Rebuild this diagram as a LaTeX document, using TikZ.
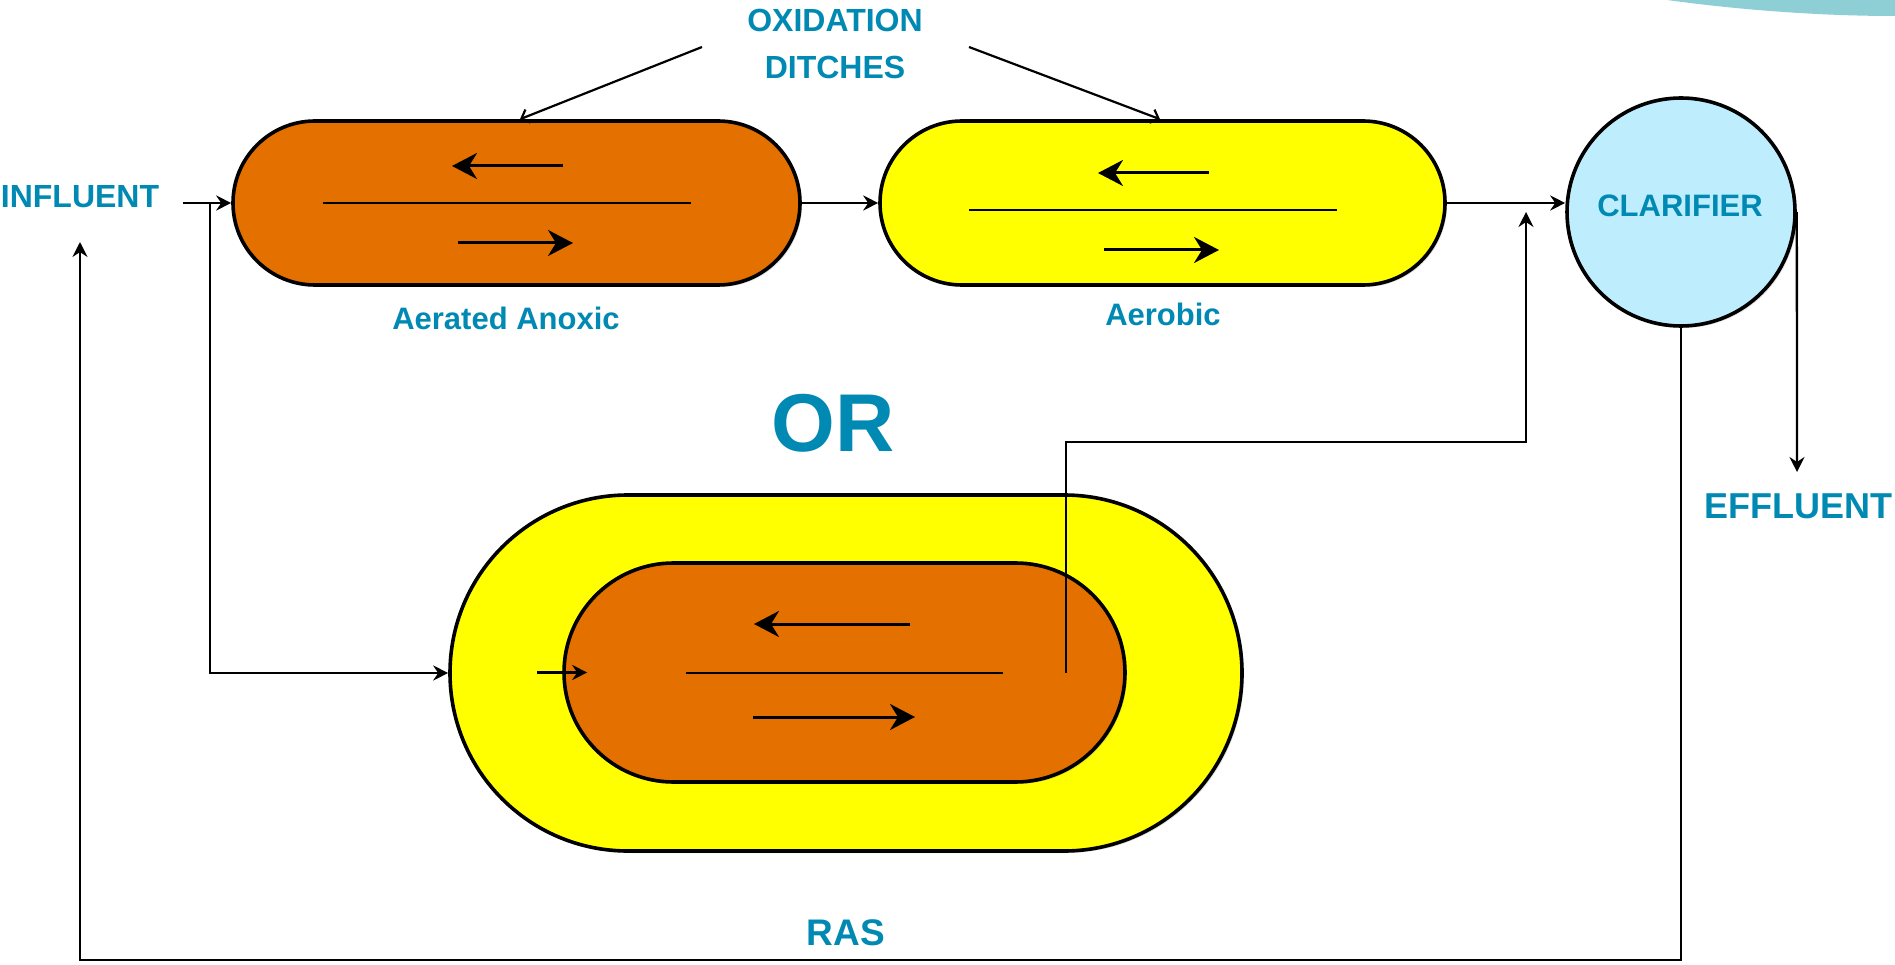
\documentclass[tikz,border=0pt]{standalone}
\usepackage{fontspec}
\setmainfont{Liberation Sans}
\usetikzlibrary{arrows.meta,shadows}

\definecolor{labelblue}{RGB}{0,137,178}
\definecolor{ditchorange}{RGB}{228,112,0}
\definecolor{ditchyellow}{RGB}{255,255,0}
\definecolor{clarblue}{RGB}{190,238,254}
\definecolor{cornerteal}{RGB}{142,207,213}

\begin{document}
\begin{tikzpicture}[x=1pt, y=-1pt,
    ditch/.style={draw, rectangle, line width=3.6pt, inner sep=0pt, drop shadow={opacity=0.25, shadow xshift=2pt, shadow yshift=-2pt}},
    lbl/.style={text=labelblue, inner sep=0pt},
    flow/.style={-{Stealth[length=15pt, width=15pt, inset=5pt]}, line width=2.3pt},
    leader/.style={-{Straight Barb[length=7pt, width=14pt]}, line width=2.2pt},
    swirl/.style={-{Stealth[length=25pt, width=26pt, inset=8pt]}, line width=3pt},
    midline/.style={line width=1.6pt}]
    \useasboundingbox (0,0) rectangle (1895,965);
    \fill[cornerteal] (1667,0) .. controls (1740,10) and (1820,16) .. (1895,16) -- (1895,0) -- cycle;

    % Nodes
    \node[ditch, fill=ditchorange, minimum width=567pt, minimum height=164pt, rounded corners=82pt] (anoxic) at (516.5,203) {};
    \node[ditch, fill=ditchyellow, minimum width=565pt, minimum height=164pt, rounded corners=82pt] (aerobic) at (1162.5,203) {};
    \node[ditch, circle, fill=clarblue, minimum size=228pt] (clarifier) at (1681,212) {};
    \node[ditch, fill=ditchyellow, minimum width=792pt, minimum height=356pt, rounded corners=178pt] (combined) at (846,673) {};
    \node[ditch, fill=ditchorange, minimum width=561pt, minimum height=219pt, rounded corners=109.5pt] (inner) at (844.5,672.5) {};

    % Labels
    \node[lbl, font=\bfseries\fontsize{31}{36}\selectfont] (clarifierlbl) at (1680,206) {CLARIFIER};
    \node[lbl, font=\bfseries\fontsize{32}{38}\selectfont] (influent) at (80,197) {INFLUENT};
    \node[lbl, align=center, font=\bfseries\fontsize{32}{47}\selectfont] (oxid) at (835,44) {OXIDATION\\DITCHES};
    \node[lbl, font=\bfseries\fontsize{31}{36}\selectfont] (anoxiclbl) at (506,318) {Aerated Anoxic};
    \node[lbl, font=\bfseries\fontsize{31}{36}\selectfont] (aerobiclbl) at (1163,314) {Aerobic};
    \node[lbl, font=\bfseries\fontsize{82}{90}\selectfont] (or) at (833,423) {OR};
    \node[lbl, font=\bfseries\fontsize{36}{42}\selectfont] (effluent) at (1798,506) {EFFLUENT};
    \node[lbl, font=\bfseries\fontsize{37}{42}\selectfont] (ras) at (846,933) {RAS};

    % Flow marks inside the ditches
    \foreach \p/\dy in {anoxic/0, aerobic/7} {
        \draw[midline] ([shift={(-193.5,\dy)}]\p.center) -- ([shift={(174.5,\dy)}]\p.center);
        \draw[swirl] ([shift={(46.5,\dy-37)}]\p.center) -- ([shift={(-64.5,\dy-37)}]\p.center);
        \draw[swirl] ([shift={(-58.5,\dy+40)}]\p.center) -- ([shift={(56.5,\dy+40)}]\p.center);
    }
    \draw[midline] (686,673) -- (1003,673);
    \draw[swirl] (910,624) -- (754,624);
    \draw[swirl] (753,717) -- (915,717);

    % Connections
    \coordinate (inlet) at (183,203);
    \coordinate (split) at (210,203);
    \coordinate (innerout) at (1066,673);
    \coordinate (bypass) at (1526,442);
    \coordinate (effout) at (1797,472);
    \coordinate (rascorner) at (80,960);
    \coordinate (rasend) at (80,242);
    \coordinate (oxidL) at (702,47);
    \coordinate (oxidR) at (969,47);

    \draw[flow] (inlet) -- (anoxic.west);
    \draw[flow] (anoxic.east) -- (aerobic.west);
    \draw[flow] (aerobic.east) -- (aerobic.east -| clarifier.west);
    \draw[flow] (split) |- (combined.west);
    \draw[flow] ([xshift=-25pt]inner.west) -- ([xshift=25pt]inner.west);
    \draw[flow] (innerout) |- (bypass) -- (bypass |- clarifier.center);
    \draw[flow] (clarifier.east) -- (effout);
    \draw[flow] (clarifier.south) |- (rascorner) -- (rasend);
    \draw[leader] (oxidL) -- ([xshift=3.5pt]anoxic.north);
    \draw[leader] (oxidR) -- ([xshift=-2.5pt]aerobic.north);
\end{tikzpicture}
\end{document}
